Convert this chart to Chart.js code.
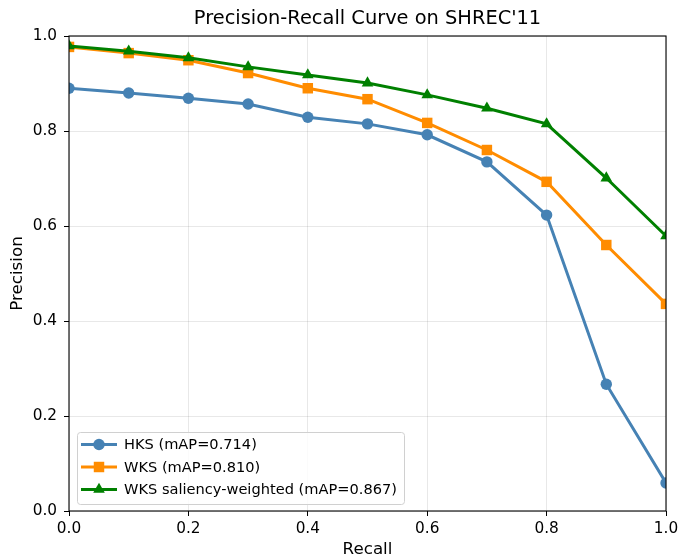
<!DOCTYPE html>
<html><head><meta charset="utf-8">
<script src="https://cdn.jsdelivr.net/npm/chart.js@4"></script>
<style>html,body{margin:0;padding:0;background:#fff}#w{width:679px;height:558px}</style>
</head><body><div id="w"><canvas id="c" width="679" height="558"></canvas></div>
<script>
const recall = [0.0, 0.1, 0.2, 0.3, 0.4, 0.5, 0.6, 0.7, 0.8, 0.9, 1.0];
const hks = [0.890, 0.880, 0.869, 0.857, 0.829, 0.815, 0.792, 0.735, 0.623, 0.267, 0.059];
const wks = [0.977, 0.964, 0.949, 0.922, 0.890, 0.867, 0.817, 0.760, 0.693, 0.560, 0.436];
const wksSal = [0.979, 0.968, 0.954, 0.935, 0.918, 0.901, 0.876, 0.848, 0.815, 0.701, 0.579];
const seriesLabels = ["HKS (mAP=0.714)", "WKS (mAP=0.810)", "WKS saliency-weighted (mAP=0.867)"];
const xTicks = [0.0, 0.2, 0.4, 0.6, 0.8, 1.0];
const yTicks = [0.0, 0.2, 0.4, 0.6, 0.8, 1.0];
const titleText = "Precision-Recall Curve on SHREC'11";

const FONT = "'DejaVu Sans', sans-serif";
const toXY = arr => arr.map((v, i) => ({x: recall[i], y: v}));

const frame = {
  id: 'frame',
  afterDatasetsDraw(chart) {
    const {ctx, chartArea: a} = chart;
    ctx.save();
    ctx.strokeStyle = '#000'; ctx.lineWidth = 1.1;
    ctx.strokeRect(a.left, a.top, a.right - a.left, a.bottom - a.top);
    ctx.fillStyle = '#000'; ctx.font = '19.4px ' + FONT;
    ctx.textAlign = 'center'; ctx.textBaseline = 'middle';
    ctx.fillText(titleText, (a.left + a.right) / 2, 19);
    // legend
    const lx = 77, ly = 432, lw = 327, lh = 72;
    ctx.fillStyle = 'rgba(255,255,255,0.8)';
    ctx.strokeStyle = '#d0d0d0'; ctx.lineWidth = 1;
    ctx.beginPath();
    if (ctx.roundRect) ctx.roundRect(lx + 0.5, ly + 0.5, lw, lh, 3); else ctx.rect(lx + 0.5, ly + 0.5, lw, lh);
    ctx.fill(); ctx.stroke();
    chart.data.datasets.forEach((ds, i) => {
      const y = ly + 12.5 + i * 22.5;
      ctx.strokeStyle = ds.borderColor; ctx.lineWidth = 3;
      ctx.beginPath(); ctx.moveTo(81, y); ctx.lineTo(117, y); ctx.stroke();
      ctx.fillStyle = ds.borderColor;
      Chart.helpers.drawPoint(ctx, {pointStyle: ds.pointStyle, radius: ds.pointRadius, borderWidth: 0}, 99, y);
      ctx.fillStyle = '#000'; ctx.font = '14.6px ' + FONT;
      ctx.textAlign = 'left'; ctx.textBaseline = 'middle';
      ctx.fillText(ds.label, 124, y + 1);
    });
    ctx.restore();
  }
};

new Chart(document.getElementById('c'), {
  type: 'line',
  data: {
    datasets: [
      {label: seriesLabels[0], data: toXY(hks), borderColor: '#4682B4', backgroundColor: '#4682B4', pointBackgroundColor: '#4682B4', pointStyle: 'circle', pointRadius: 5.7, pointBorderWidth: 0, borderWidth: 3, order: 3},
      {label: seriesLabels[1], data: toXY(wks), borderColor: '#FF8C00', backgroundColor: '#FF8C00', pointBackgroundColor: '#FF8C00', pointStyle: 'rect', pointRadius: 7.4, pointBorderWidth: 0, borderWidth: 3, order: 2},
      {label: seriesLabels[2], data: toXY(wksSal), borderColor: '#008000', backgroundColor: '#008000', pointBackgroundColor: '#008000', pointStyle: 'triangle', pointRadius: 6.7, pointBorderWidth: 0, borderWidth: 3, order: 1}
    ]
  },
  options: {
    responsive: false, animation: false, devicePixelRatio: 1,
    layout: {padding: {left: 0, right: 13, top: 36, bottom: 0}},
    elements: {point: {borderWidth: 0}, line: {tension: 0}},
    plugins: {legend: {display: false}, title: {display: false}, tooltip: {enabled: false}},
    scales: {
      x: {
        type: 'linear', min: 0, max: 1,
        afterBuildTicks: s => { s.ticks = xTicks.map(v => ({value: v})); },
        afterFit: s => { s.height = 47; s.paddingLeft = 0; s.paddingRight = 0; },
        ticks: {color: '#000', font: {family: FONT, size: 15.3}, padding: 4, maxRotation: 0, callback: v => v.toFixed(1)},
        grid: {color: 'rgba(0,0,0,0.09)', tickColor: '#000', tickLength: 5, lineWidth: 1},
        border: {display: false},
        title: {display: true, text: 'Recall', color: '#000', font: {family: FONT, size: 16.7, lineHeight: 1.0}, padding: {top: 0, bottom: 0}}
      },
      y: {
        type: 'linear', min: 0, max: 1,
        afterBuildTicks: s => { s.ticks = yTicks.map(v => ({value: v})); },
        afterFit: s => { s.width = 69; s.paddingTop = 0; s.paddingBottom = 0; },
        ticks: {color: '#000', font: {family: FONT, size: 15.3}, padding: 7, callback: v => v.toFixed(1)},
        grid: {color: 'rgba(0,0,0,0.09)', tickColor: '#000', tickLength: 5, lineWidth: 1},
        border: {display: false},
        title: {display: true, text: 'Precision', color: '#000', font: {family: FONT, size: 16.7, lineHeight: 1.0}, padding: {top: 9, bottom: 0}}
      }
    }
  },
  plugins: [frame]
});
</script></body></html>
